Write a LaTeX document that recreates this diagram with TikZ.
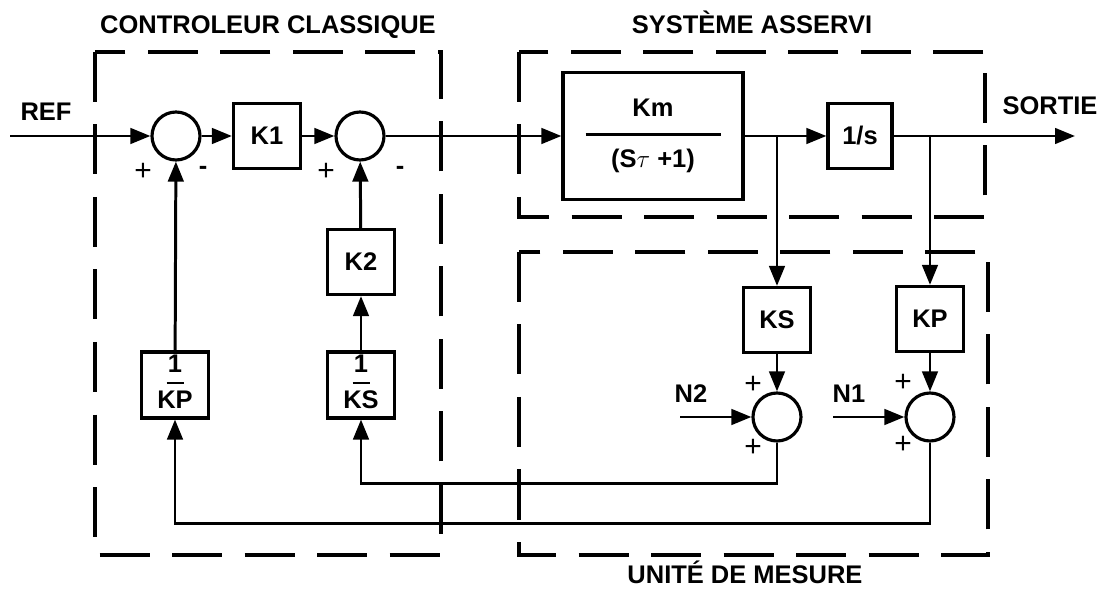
\documentclass[tikz,border=0pt]{standalone}
\usepackage{fontspec}
\setmainfont{Liberation Sans}
\usetikzlibrary{arrows.meta,positioning,calc}
\newcommand{\lab}{\fontsize{14.5}{17}\selectfont\bfseries}
\newcommand{\inv}[1]{\begin{tabular}{@{}c@{}}1\\[-10.5pt]\rule{3.4mm}{1.5pt}\\[-3pt]#1\end{tabular}}
\tikzset{
  blk/.style={draw, line width=1.8pt, minimum width=13.4mm, minimum height=13mm,
    inner sep=0pt, align=center, font=\lab},
  sum/.style={draw, circle, line width=1.8pt, minimum size=9.6mm, inner sep=0pt},
  sig/.style={-{Triangle[length=4mm,width=3.1mm]}, line width=1.7pt},
  zone/.style={line width=2pt, dash pattern=on 10mm off 4.5mm},
  plus/.style={font=\fontsize{17}{17}\selectfont},
  minus/.style={font=\lab},
  txt/.style={font=\lab},
}

\begin{document}
\begin{tikzpicture}[x=0.2mm, y=-0.2mm]
    \useasboundingbox (0,0) rectangle (1102,593);
    % zones
    \draw[zone] (95,52) rectangle (441,555);
    \draw[zone] (519,52) rectangle (985,217);
    \draw[zone] (519,252) rectangle (988,555);
    \node[txt] (tc) at (268,27) {CONTROLEUR CLASSIQUE};
    \node[txt] (ts) at (752,22) {SYSTÈME ASSERVI};
    \node[txt] (tm) at (745,572) {UNITÉ DE MESURE};
    % forward path
    \coordinate (ref) at (10,136);
    \node[sum] (s1) at (176,136) {};
    \node[blk] (k1) at (267,136) {K1};
    \node[sum] (s2) at (360,136) {};
    \node[blk, minimum width=36mm, minimum height=25.4mm] (km) at (653,136)
      {Km\\[-6pt]\rule[0pt]{27mm}{1.5pt}\\[1pt](S$\tau$ +1)};
    \node[blk, minimum width=12.8mm] (integ) at (860,136) {1/s};
    \coordinate (out) at (1075,136);
    \node[txt] (lref) at (46,112) {REF};
    \node[txt] (lout) at (1050,106) {SORTIE};
    \foreach \x/\y in {ref/s1, s1/k1, k1/s2, s2/km, km/integ, integ/out} \draw[sig] (\x) -- (\y);
    % measurement
    \coordinate (bs) at (777,136);
    \coordinate (bp) at (930,136);
    \node[blk] (ks) at (777,320) {KS};
    \node[blk] (kp) at (930,319) {KP};
    \node[sum] (s3) at (777,417) {};
    \node[sum] (s4) at (930,417) {};
    \coordinate (n2) at (680,417);
    \coordinate (n1) at (833,417);
    \node[txt] (ln2) at (691,394) {N2};
    \node[txt] (ln1) at (849,394) {N1};
    \foreach \x/\y in {bs/ks, bp/kp, ks/s3, kp/s4, n2/s3, n1/s4} \draw[sig] (\x) -- (\y);
    % feedback
    \node[blk] (ikp) at (175,385) {\inv{KP}};
    \node[blk] (iks) at (361,385) {\inv{KS}};
    \node[blk] (k2) at (361,262) {K2};
    \draw[sig] (s3.south) -- ++(0,41) -| (iks.south);
    \draw[sig] (s4.south) -- ++(0,81) -| (ikp.south);
    \foreach \x/\y in {iks/k2, k2/s2, ikp/s1} \draw[sig] (\x) -- (\y);
    % signs
    \node[plus] at (143,172) {+};
    \node[minus] at (203,170) {-};
    \node[plus] at (326,172) {+};
    \node[minus] at (400,170) {-};
    \node[plus] at (753,385) {+};
    \node[plus] at (753,448) {+};
    \node[plus] at (903,383) {+};
    \node[plus] at (903,445) {+};
\end{tikzpicture}
\end{document}
